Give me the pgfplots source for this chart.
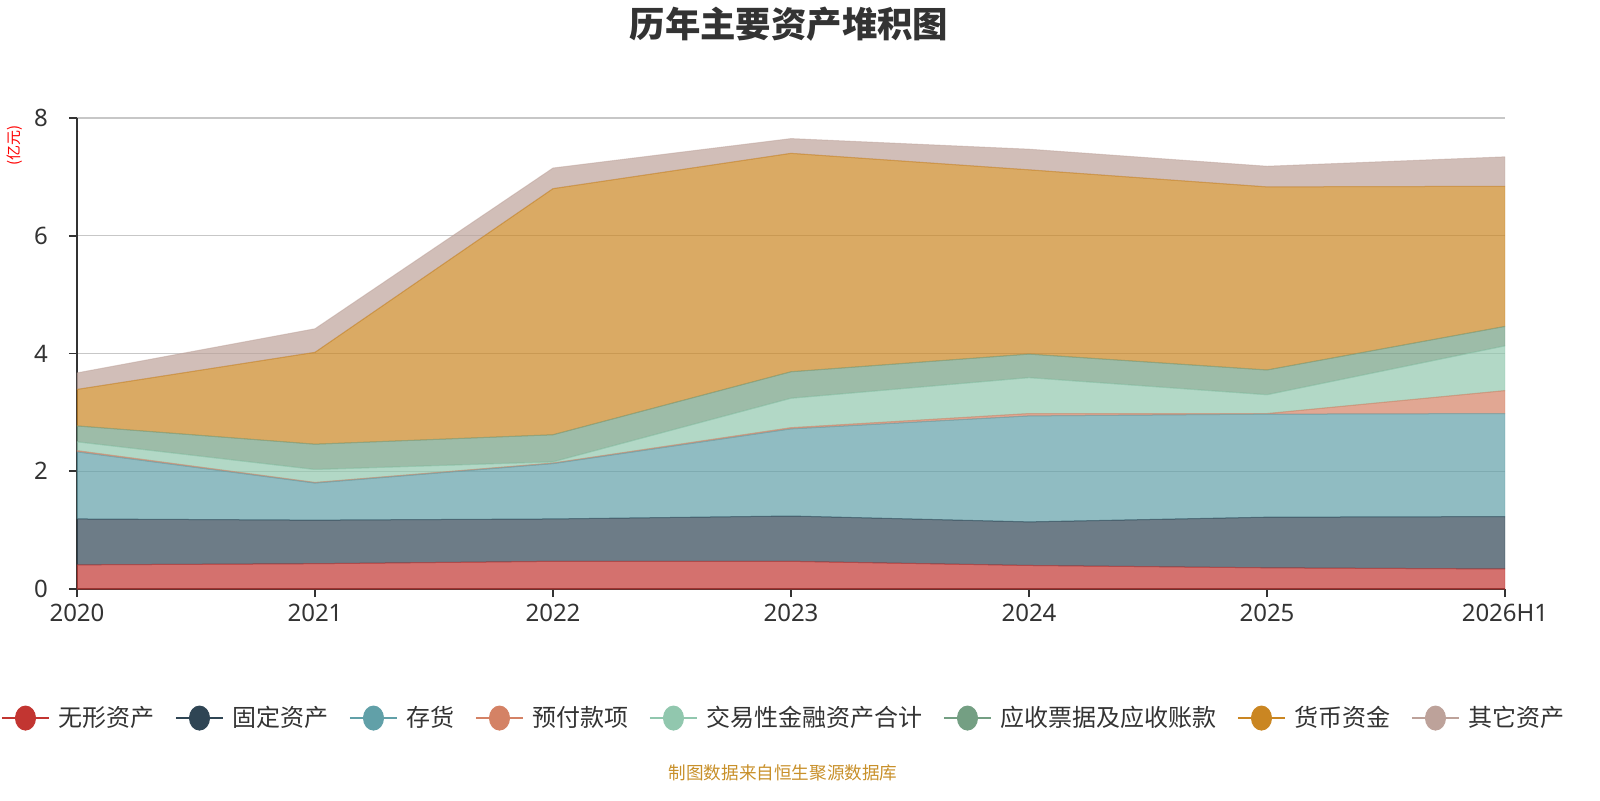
\documentclass[border=0pt]{standalone}
\usepackage{pgfplots}
\pgfplotsset{compat=1.18}
\usepackage{fontspec}
\setmainfont{Noto Sans}
\newfontfamily\cjk{Noto Sans CJK SC}
\definecolor{cA}{HTML}{C23531}
\definecolor{cB}{HTML}{2F4554}
\definecolor{cC}{HTML}{61A0A8}
\definecolor{cD}{HTML}{D48265}
\definecolor{cE}{HTML}{91C7AE}
\definecolor{cF}{HTML}{749F83}
\definecolor{cG}{HTML}{CA8622}
\definecolor{cH}{HTML}{BDA29A}
\definecolor{txt}{HTML}{333333}
\definecolor{foot}{HTML}{C8902A}
\pgfplotsset{legimg/.style={legend image code/.code={%
  \draw[#1,line width=1pt,opacity=1] (0pt,0pt) -- (23.5pt,0pt);
  \fill[#1,opacity=1] (11.75pt,0pt) ellipse (5pt and 6pt);}}}
\begin{document}
\begin{tikzpicture}[x=1pt,y=1pt]
\path[use as bounding box] (0,0) rectangle (800,400);
\begin{axis}[
  at={(38.5pt,105.5pt)}, anchor=south west,
  scale only axis, width=714pt, height=235.5pt,
  xmin=0, xmax=6, ymin=0, ymax=8,
  xtick={0,1,2,3,4,5,6},
  xticklabels={2020,2021,2022,2023,2024,2025,2026H1},
  ytick={0,2,4,6,8},
  axis lines*=left,
  axis line style={txt, line width=0.8pt},
  tick style={txt, line width=0.8pt},
  tick align=outside, major tick length=4pt,
  ymajorgrids, grid style={color=black!22, line width=0.7pt},
  /pgf/number format/assume math mode=true,
  tick label style={font=\fontsize{12}{12}\selectfont, text=txt},
  yticklabel style={xshift=-7pt},
  stack plots=y,
  every axis plot/.append style={line width=0.5pt, fill opacity=0.7, draw opacity=0.5},
  legend columns=8,
  legend style={at={(axis description cs:0.5,-0.274)}, anchor=center, xshift=-3pt,
    draw=none, fill=none, font=\cjk\fontsize{12}{12}\selectfont, text=txt,
    /tikz/every even column/.append style={column sep=8pt},
    /tikz/every odd column/.append style={column sep=2.5pt}},
]
\addplot[fill=cA, draw=cA, legimg=cA] coordinates {(0,0.41) (1,0.43) (2,0.47) (3,0.47) (4,0.40) (5,0.36) (6,0.34)} \closedcycle;
\addlegendentry{无形资产}
\addplot[fill=cB, draw=cB, legimg=cB] coordinates {(0,0.78) (1,0.74) (2,0.72) (3,0.77) (4,0.74) (5,0.86) (6,0.89)} \closedcycle;
\addlegendentry{固定资产}
\addplot[fill=cC, draw=cC, legimg=cC] coordinates {(0,1.14) (1,0.63) (2,0.94) (3,1.48) (4,1.80) (5,1.75) (6,1.75)} \closedcycle;
\addlegendentry{存货}
\addplot[fill=cD, draw=cD, legimg=cD] coordinates {(0,0.02) (1,0.01) (2,0.01) (3,0.02) (4,0.04) (5,0.01) (6,0.39)} \closedcycle;
\addlegendentry{预付款项}
\addplot[fill=cE, draw=cE, legimg=cE] coordinates {(0,0.15) (1,0.22) (2,0.02) (3,0.50) (4,0.61) (5,0.32) (6,0.76)} \closedcycle;
\addlegendentry{交易性金融资产合计}
\addplot[fill=cF, draw=cF, legimg=cF] coordinates {(0,0.27) (1,0.43) (2,0.46) (3,0.45) (4,0.40) (5,0.42) (6,0.33)} \closedcycle;
\addlegendentry{应收票据及应收账款}
\addplot[fill=cG, draw=cG, legimg=cG] coordinates {(0,0.62) (1,1.56) (2,4.18) (3,3.71) (4,3.13) (5,3.11) (6,2.38)} \closedcycle;
\addlegendentry{货币资金}
\addplot[fill=cH, draw=cH, legimg=cH] coordinates {(0,0.28) (1,0.40) (2,0.35) (3,0.25) (4,0.35) (5,0.35) (6,0.50)} \closedcycle;
\addlegendentry{其它资产}
\end{axis}
\node[text=txt, font=\cjk\bfseries\fontsize{17.7}{18}\selectfont] at (394.5,388) {历年主要资产堆积图};
\node[rotate=90, text=red, font=\cjk\fontsize{7.5}{8}\selectfont] at (7.5,327.5) {(亿元)};
\node[text=foot, font=\cjk\fontsize{8.8}{9}\selectfont] at (391.5,13.5) {制图数据来自恒生聚源数据库};
\end{tikzpicture}
\end{document}
